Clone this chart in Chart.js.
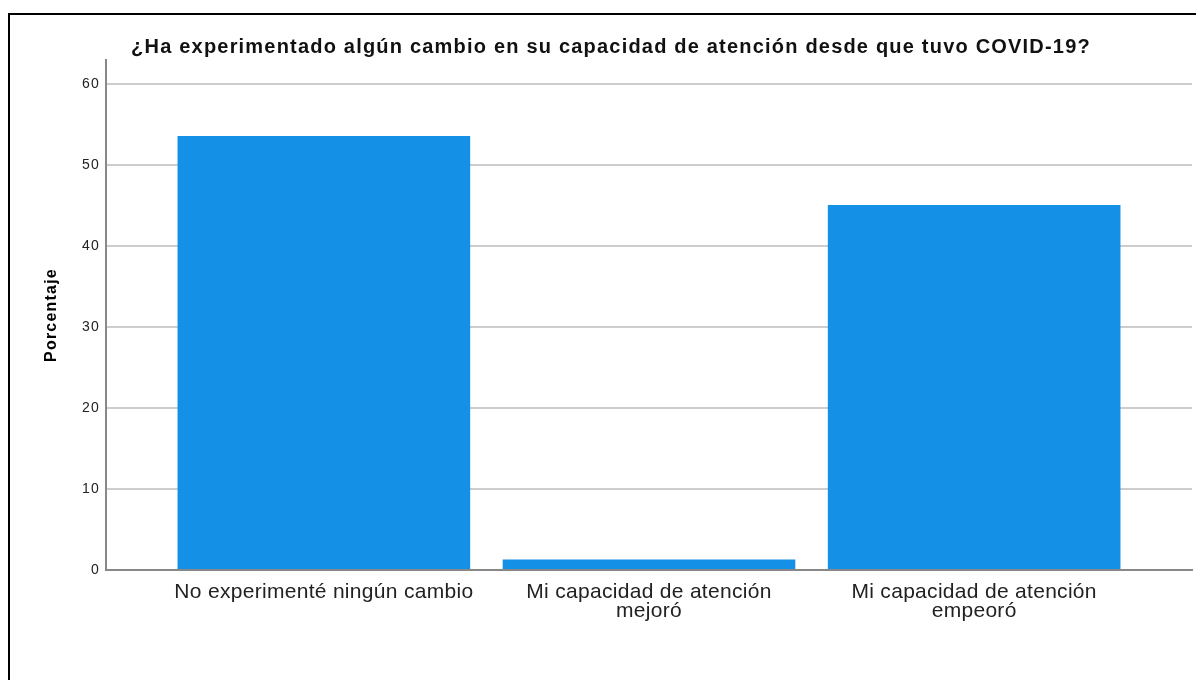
<!DOCTYPE html>
<html lang="es">
<head>
<meta charset="utf-8">
<title>Capacidad de atención después de COVID-19</title>
<script src="https://cdn.jsdelivr.net/npm/chart.js@4.4.1/dist/chart.umd.min.js"></script>
<style>
  html, body { margin: 0; padding: 0; background: #fff; overflow: hidden; }
  #marco {
    position: absolute; left: 8px; top: 13px;
    width: 1400px; height: 1000px;
    border: 2px solid #000; box-sizing: border-box;
  }
  #contenedor { position: absolute; left: 10px; top: 15px; }
</style>
</head>
<body>
<div id="marco"></div>
<div id="contenedor">
  <canvas id="grafico" width="1202" height="665"></canvas>
</div>
<script>
// datos (porcentaje)
const categorias = [
  ['No experimenté ningún cambio'],
  ['Mi capacidad de atención', 'mejoró'],
  ['Mi capacidad de atención', 'empeoró']
];
const porcentajes = [53.6, 1.3, 45.1];
const ticksY = [0, 10, 20, 30, 40, 50, 60];

const titulo = '¿Ha experimentado algún cambio en su capacidad de atención desde que tuvo COVID-19?';
const fuente = "'Liberation Sans', Arial, sans-serif";

// el original tiene el texto algo espaciado; el titulo mas que las etiquetas.
// las etiquetas del eje x se dibujan despues de las barras (ticks.z: 1) para cambiarlo ahi
const pluginEspaciado = {
  id: 'espaciado',
  beforeDraw(chart) {
    chart.ctx.letterSpacing = '1.2px';
  },
  afterDatasetsDraw(chart) {
    chart.ctx.letterSpacing = '0.3px';
  }
};

const ctx = document.getElementById('grafico').getContext('2d');

new Chart(ctx, {
  type: 'bar',
  data: {
    datasets: [{
      label: 'Porcentaje',
      data: porcentajes.map((p, i) => ({ x: i, y: p })),
      backgroundColor: '#1490e6',
      borderWidth: 0,
      categoryPercentage: 1,
      barPercentage: 0.9
    }]
  },
  options: {
    responsive: false,
    animation: false,
    layout: { padding: { left: 20, right: 20, top: 0, bottom: 47 } },
    plugins: {
      legend: { display: false },
      tooltip: { enabled: false },
      title: {
        display: true,
        text: titulo,
        color: '#111',
        font: { family: fuente, size: 20, weight: 'bold', lineHeight: 1.2 },
        padding: { top: 20, bottom: 1 }
      }
    },
    scales: {
      x: {
        type: 'linear',
        offset: false,
        bounds: 'data',
        min: -0.67,
        max: 2.67,
        afterBuildTicks: (scale) => {
          scale.ticks = categorias.map((c, i) => ({ value: i }));
        },
        ticks: {
          z: 1,
          callback: (v) => categorias[v] || '',
          color: '#222',
          padding: 13,
          maxRotation: 0,
          autoSkip: false,
          font: { family: fuente, size: 21, lineHeight: 0.88 }
        },
        grid: { display: false, drawTicks: false },
        border: { display: true, color: '#888', width: 2 }
      },
      y: {
        min: 0,
        max: 63,
        bounds: 'data',
        afterBuildTicks: (scale) => {
          scale.ticks = ticksY.map(v => ({ value: v }));
        },
        afterFit: (scale) => { scale.width = 76; },
        ticks: {
          color: '#222',
          padding: 6,
          font: { family: fuente, size: 14 }
        },
        grid: {
          color: (c) => c.tick && c.tick.value === 0 ? 'rgba(0,0,0,0)' : '#cdcdcd',
          lineWidth: 2,
          drawTicks: false
        },
        border: { display: true, color: '#888', width: 2 },
        title: {
          display: true,
          text: 'Porcentaje',
          color: '#000',
          padding: { top: 12, bottom: 0 },
          font: { family: fuente, size: 16, weight: 'bold', lineHeight: 1.2 }
        }
      }
    }
  },
  plugins: [pluginEspaciado]
});
</script>
</body>
</html>
